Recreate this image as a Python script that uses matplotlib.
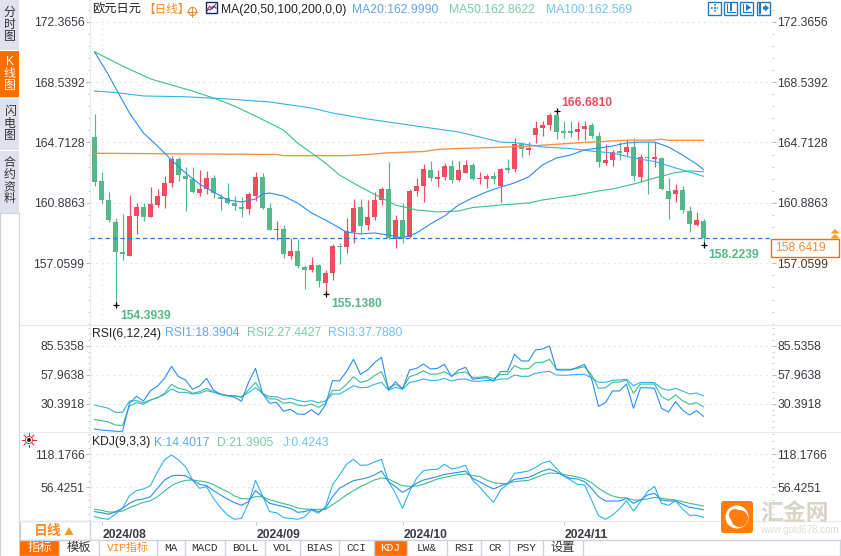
import numpy as np
import matplotlib
matplotlib.use('Agg')
import matplotlib.pyplot as plt
from matplotlib.patches import Rectangle, Circle, FancyBboxPatch, Polygon

W = 841
H = 556
plt.rcParams['font.family'] = ['Liberation Sans', 'Noto Sans CJK SC', 'DejaVu Sans']

# candles
opens = [165.06,162.27,161.07,159.68,157.78,157.52,160.06,160.63,159.99,160.75,161.32,162.15,163.67,162.59,162.40,161.51,161.77,162.46,161.26,161.20,
         160.88,160.63,160.50,161.32,162.53,160.56,159.17,159.23,157.52,157.84,156.83,156.64,156.95,155.81,156.45,158.16,158.09,159.04,160.63,159.49,
         159.99,161.07,161.77,158.60,159.80,158.73,161.64,161.96,162.97,162.40,162.53,163.22,162.34,162.78,163.29,162.40,162.40,162.59,161.98,163.10,
         163.03,164.62,164.24,165.19,165.63,165.82,166.45,165.44,165.44,165.38,165.57,165.82,165.12,163.41,163.60,164.17,164.11,164.43,162.53,163.79,
         163.67,163.73,161.64,161.45,161.70,160.37,159.49,159.74]
highs = [166.52,162.84,161.58,159.93,160.18,161.39,160.88,160.88,161.89,161.77,162.59,163.86,163.81,163.16,163.16,162.97,162.91,162.65,161.45,162.15,
         161.32,161.26,161.58,162.84,162.78,160.88,159.74,159.49,158.66,158.60,156.95,157.46,157.02,156.64,158.28,158.35,159.93,161.13,161.13,161.07,
         161.58,161.89,163.48,160.12,160.88,161.77,162.46,163.35,163.54,162.97,163.41,163.60,163.54,163.60,163.41,162.84,162.72,162.84,163.10,163.67,
         165.00,164.74,164.74,166.07,166.07,166.58,166.68,166.07,166.07,166.01,166.07,165.95,165.38,164.62,164.24,164.74,164.94,165.00,163.98,164.74,
         164.74,163.79,162.46,162.08,161.96,160.69,160.31,159.87]
lows = [161.96,160.90,159.68,154.39,157.27,157.52,158.92,159.74,159.99,160.63,160.56,161.89,162.27,160.37,161.51,161.32,161.45,161.20,160.44,160.82,
        160.44,159.99,160.18,161.01,160.50,159.17,158.54,157.40,157.33,156.76,155.43,156.51,155.56,155.14,156.00,157.02,157.71,158.35,158.92,159.17,
        159.80,160.75,158.60,158.03,158.35,158.66,161.32,160.94,162.27,161.89,162.34,162.15,162.27,162.78,162.34,162.08,161.83,162.08,160.96,162.78,
        162.84,163.80,163.92,164.68,165.12,165.50,164.94,165.00,165.06,164.87,164.87,165.00,163.16,163.29,163.22,163.60,163.86,162.27,162.21,161.45,
        163.16,161.70,159.87,160.94,160.25,159.04,159.42,158.22]
closes = [162.21,161.07,159.80,157.78,157.65,160.06,160.63,159.99,160.82,161.32,162.15,163.67,162.65,162.40,161.58,161.77,162.46,161.51,161.13,160.88,
          160.69,160.50,161.45,162.53,160.56,159.17,159.23,157.65,157.84,156.89,156.64,156.95,155.94,156.45,158.16,158.09,159.11,160.56,159.42,159.99,
          161.07,161.77,158.66,159.80,158.73,161.64,161.96,163.03,162.46,162.53,163.22,162.34,162.97,163.29,162.40,162.46,162.59,162.40,163.03,162.97,
          164.62,164.30,164.36,165.63,165.82,166.45,165.38,165.31,165.31,165.57,165.76,165.12,163.48,163.60,164.11,164.05,164.43,162.59,163.79,163.73,
          163.79,161.77,161.13,161.70,160.44,159.55,159.80,158.64]

ma20_idx = [0,2,3,5,7,9,11,13,15,17,19,21,23,24,25,27,29,31,33,35,36,38,40,42,44,46,48,50,52,54,56,58,60,62,64,66,68,70,72,74,76,78,80,82,84,86,87]
ma20 = [170.46,168.99,168.17,166.58,165.31,164.49,163.60,162.78,162.08,161.58,161.07,160.94,161.13,161.45,161.51,161.32,160.88,160.25,159.80,159.30,159.04,158.92,158.98,158.85,158.66,158.98,159.55,160.06,160.75,161.20,161.58,161.89,162.15,162.53,163.29,163.73,163.92,164.24,164.36,164.49,164.68,164.74,164.74,164.43,163.92,163.35,163.00]
ma50_idx = [0,4,8,14,17,20,23,27,29,31,33,35,38,41,43,46,49,52,54,58,62,64,69,72,74,77,80,83,85,87]
ma50 = [170.46,169.56,168.74,167.97,167.53,167.02,166.39,165.50,164.68,164.05,163.41,162.65,161.89,161.20,160.75,160.44,160.31,160.37,160.59,160.75,160.88,161.07,161.39,161.64,161.77,162.08,162.46,162.81,162.91,162.86]
ma100_idx = [0,3,7,13,19,25,31,34,39,47,52,58,60,64,68,71,74,77,80,83,85,87]
ma100 = [167.97,167.88,167.66,167.61,167.47,167.28,166.90,166.58,166.20,165.69,165.38,164.74,164.71,164.43,164.33,164.17,164.05,163.73,163.51,163.10,162.84,162.57]
ma200_idx = [0,21,26,27,36,39,42,47,49,52,58,63,66,69,72,75,80,81,82,87]
ma200 = [164.03,163.97,163.95,163.88,163.88,163.95,164.06,164.14,164.27,164.33,164.41,164.51,164.60,164.69,164.76,164.84,164.87,164.92,164.85,164.85]

rsi1 = [6.3,5.4,4.8,4.1,4.1,30.8,37.4,33.0,42.8,47.2,54.5,65.9,56.1,52.9,44.1,47.2,54.5,43.4,39.3,38.0,36.5,32.7,50.7,64.0,40.3,30.8,31.7,23.2,25.1,20.6,20.3,24.7,19.7,29.2,52.3,52.0,60.9,72.6,58.3,62.4,69.4,74.5,43.4,51.3,44.4,62.4,64.0,
        68.1,63.4,64.0,67.8,56.1,62.4,65.0,53.6,54.5,55.1,52.0,60.9,60.9,77.3,71.0,71.0,81.5,82.4,85.3,62.4,62.4,62.4,65.0,67.8,54.5,27.9,31.4,42.5,42.5,49.1,26.0,45.6,45.6,45.0,26.0,22.5,32.3,24.4,19.7,23.8,18.39]
rsi2 = [15.5,14.3,13.0,10.1,9.8,28.2,31.4,29.8,33.9,36.1,40.3,48.8,45.0,43.7,40.3,41.8,45.0,41.8,39.6,38.0,37.7,36.5,43.4,50.7,39.9,34.9,34.9,30.8,31.7,29.2,28.2,30.1,26.9,30.8,43.1,43.1,48.8,56.1,50.7,52.3,57.0,60.9,45.0,48.8,45.0,56.1,58.3,
        61.5,58.3,58.6,60.9,56.7,59.9,60.5,55.5,55.5,56.4,53.9,58.3,58.3,66.6,63.4,63.7,69.4,69.7,72.6,63.1,63.1,63.1,64.0,65.6,57.7,45.0,45.6,50.7,51.0,52.9,40.3,49.1,49.1,49.1,37.1,33.6,38.7,33.3,29.8,31.4,27.44]
rsi3 = [29.2,27.6,26.0,22.2,22.2,33.0,33.3,31.4,33.9,36.1,39.3,44.4,41.2,41.2,39.6,40.3,42.8,41.2,39.3,38.0,38.0,37.1,40.9,45.6,40.3,37.1,37.1,34.5,35.5,33.6,32.3,33.3,31.4,33.0,39.6,39.6,43.4,47.5,45.6,46.0,48.8,50.7,43.4,46.0,44.1,50.4,52.0,
        53.9,52.6,52.6,54.5,52.0,53.6,53.9,51.7,51.7,52.6,52.3,53.9,53.9,57.7,56.4,56.4,59.3,60.5,61.2,57.7,57.4,57.7,58.3,58.3,55.1,50.7,50.7,52.6,52.9,53.6,47.5,50.7,50.7,50.4,45.0,43.1,45.0,42.5,39.6,40.6,37.78]

kdj_k = [10.9,9.0,5.9,10.9,17.1,26.5,32.7,34.6,38.9,54.5,70.1,77.6,78.9,78.2,70.1,62.0,59.5,50.2,42.1,34.6,27.7,22.7,29.6,50.2,38.9,26.5,23.3,20.2,17.1,9.6,10.9,15.2,10.9,17.1,38.9,54.5,62.0,68.9,71.4,74.5,79.5,87.0,67.0,57.7,47.0,54.5,63.9,
         70.1,73.2,76.4,80.7,82.6,84.5,87.0,73.2,67.0,59.5,53.3,58.9,63.9,71.4,73.2,75.1,80.7,87.0,90.7,85.7,78.2,73.2,72.0,67.0,54.5,38.9,30.8,30.8,30.8,35.8,26.5,32.7,42.1,45.2,32.7,30.8,30.8,24.6,19.0,17.1,14.40]
kdj_d = [15.2,13.4,10.2,10.2,12.1,18.4,23.3,28.3,31.4,38.9,49.5,59.5,65.8,69.5,70.1,68.3,66.4,61.4,54.5,48.3,40.2,35.2,34.6,38.9,38.9,33.3,29.6,25.8,22.7,17.7,15.9,15.2,15.2,15.2,23.9,32.7,42.1,50.2,57.7,63.9,70.1,73.9,72.0,65.1,59.5,58.3,58.9,
         62.0,67.0,72.0,75.1,77.6,80.1,81.4,78.2,77.0,70.1,65.1,63.3,63.3,67.0,68.3,69.5,74.5,79.5,83.2,82.6,80.7,78.2,75.7,72.0,65.1,54.5,46.4,40.2,37.1,36.4,32.7,32.7,34.6,37.7,35.8,33.9,32.7,29.6,26.5,24.0,21.39]
kdj_j = [1.5,-1.6,-3.5,6.5,17.1,40.8,50.2,53.3,59.5,85.7,107.6,116.9,107.6,95.1,70.1,54.5,57.7,35.8,18.4,4.6,-3.5,-1.6,26.5,69.5,40.8,10.9,9.0,-0.4,-1.6,-3.5,0.9,14.0,7.7,20.2,60.8,79.5,99.4,108.8,97.6,98.2,103.8,108.8,67.0,45.2,17.1,48.3,73.2,
         87.6,89.5,90.1,99.4,90.7,93.2,97.6,70.1,57.7,42.1,28.3,51.4,62.0,82.6,84.5,87.0,93.2,101.9,105.7,92.0,77.6,70.1,62.0,60.8,32.7,3.4,-3.5,4.6,15.9,31.4,12.1,29.6,48.3,58.3,26.5,22.7,31.4,15.9,4.0,4.0,0.42]

price_ticks = [172.3656, 168.5392, 164.7128, 160.8863, 157.0599]
rsi_ticks = [85.5358, 57.9638, 30.3918]
kdj_ticks = [118.1766, 56.4251]
date_idx = [1, 23, 44, 67]
date_labels = ['2024/08', '2024/09', '2024/10', '2024/11']
last_price = 158.6419

RED = '#ee4d5f'
GREEN = '#54b888'
C1 = '#2a8ef5'
C2 = '#3cbf8a'
C3 = '#2fb4ea'
C4 = '#f6924a'
ORANGE = '#ff6c00'
GRID = '#e9e9e9'
SEP = '#e6eaf0'
TXT = '#3a3a44'
FS = 8.7
LW = 0.8


def rect(x0, y0, x1, y1):
    return [x0 / W, 1 - y1 / H, (x1 - x0) / W, (y1 - y0) / H]


def setup(ax, ylim, ticks):
    ax.set_facecolor('none')
    for s in ['top', 'right', 'bottom']:
        ax.spines[s].set_visible(False)
    ax.spines['left'].set_color(SEP)
    ax.set_yticks(ticks)
    ax.set_yticklabels(['%.4f' % t for t in ticks], fontsize=FS, color=TXT)
    step = abs(ticks[0] - ticks[1]) / 5
    ax.set_yticks(np.arange(ticks[-1] - 5 * step, ticks[0] + 5 * step, step), minor=True)
    ax.tick_params(axis='y', which='major', left=True, right=True, labelleft=True, labelright=True, length=3, width=0.8, color='#bbbbbb', pad=1)
    ax.tick_params(axis='y', which='minor', left=True, right=True, length=1.5, width=0.8, color='#cccccc')
    ax.set_xticks([])
    for t in ticks:
        ax.axhline(t, color=GRID, lw=0.9, ls=(0, (2, 2.5)), zorder=0)
    # set_yticks widens the view, so the limits come last
    ax.set_xlim((90 - 94.5) / 7, (772 - 94.5) / 7)
    ax.set_ylim(*ylim)


fig = plt.figure(figsize=(W / 100, H / 100), dpi=100, facecolor='white')

ax = fig.add_axes(rect(90, 0, 772, 325))
setup(ax, (153.15, 173.74), price_ticks)
ax.axvline(date_idx[0], color=GRID, lw=0.9, ls=(0, (1, 3)), zorder=0)

xs = np.arange(len(closes))
for i in xs:
    col = RED if closes[i] >= opens[i] else GREEN
    ax.vlines(i, lows[i], highs[i], color=col, lw=0.85, zorder=3)
    top = max(opens[i], closes[i])
    bot = min(opens[i], closes[i])
    ax.bar(i, max(top - bot, 0.06), bottom=bot, width=0.76, color=col, lw=0, zorder=3)

ax.plot(ma200_idx, ma200, color=C4, lw=1.0, zorder=4)
ax.plot(ma100_idx, ma100, color=C3, lw=LW, zorder=4)
ax.plot(ma50_idx, ma50, color=C2, lw=LW, zorder=4)
ax.plot(ma20_idx, ma20, color=C1, lw=LW, zorder=4)
ax.axhline(last_price, color='#1f7fe8', lw=0.9, ls=(0, (3.5, 2.5)), zorder=5)

lo1 = int(np.argmin(lows[:20]))
lo2 = 20 + int(np.argmin(lows[20:50]))
hi = int(np.argmax(highs))
lo3 = len(lows) - 1
ax.plot([lo1, lo2, lo3], [lows[lo1], lows[lo2], lows[lo3]], ls='none', marker='+', color='black', ms=5, mew=0.9, zorder=6)
ax.plot([hi], [highs[hi]], ls='none', marker='+', color='black', ms=5, mew=0.9, zorder=6)
ax.annotate('166.6810', (hi, highs[hi]), xytext=(3.5, 4), textcoords='offset points', color=RED, fontsize=FS, fontweight='bold')
ax.annotate('154.3939', (lo1, lows[lo1]), xytext=(3.5, -9.5), textcoords='offset points', color=GREEN, fontsize=FS, fontweight='bold')
ax.annotate('155.1380', (lo2, lows[lo2]), xytext=(4, -9.5), textcoords='offset points', color=GREEN, fontsize=FS, fontweight='bold')
ax.annotate('158.2239', (lo3, lows[lo3]), xytext=(3.5, -9.5), textcoords='offset points', color=GREEN, fontsize=FS, fontweight='bold')

ax2 = fig.add_axes(rect(90, 325, 772, 432))
setup(ax2, (3.49, 105.22), rsi_ticks)
ax2.plot(xs, rsi3, color=C3, lw=LW)
ax2.plot(xs, rsi2, color=C2, lw=LW)
ax2.plot(xs, rsi1, color=C1, lw=LW)

ax3 = fig.add_axes(rect(90, 432, 772, 520.5))
setup(ax3, (-5.7, 159.9), kdj_ticks)
ax3.plot(xs, kdj_j, color=C3, lw=LW)
ax3.plot(xs, kdj_d, color=C2, lw=LW)
ax3.plot(xs, kdj_k, color=C1, lw=LW)
ax3.set_xticks(date_idx)
ax3.set_xticklabels(date_labels, fontsize=FS, fontweight='bold', color=TXT, ha='left')
ax3.tick_params(axis='x', length=3, width=0.8, color='#cccccc', pad=3)
for lab in ax3.get_xticklabels():
    lab.set_transform(lab.get_transform() + matplotlib.transforms.ScaledTranslation(1.5 / 100, 0, fig.dpi_scale_trans))
ax3.set_xlim((90 - 94.5) / 7, (772 - 94.5) / 7)

# everything around the plot: tabs, buttons, legends
ov = fig.add_axes([0, 0, 1, 1], zorder=10)
ov.set_xlim(0, W)
ov.set_ylim(H, 0)
ov.axis('off')
ov.patch.set_alpha(0)


def box(x0, y0, x1, y1, fc='none', ec='none', lw=0.8, z=1):
    ov.add_patch(Rectangle((x0, y0), x1 - x0, y1 - y0, fc=fc, ec=ec, lw=lw, zorder=z))


def txt(x, y, s, color=TXT, size=FS, ha='left', **kw):
    ov.text(x, y, s, color=color, fontsize=size, ha=ha, va='center', **kw)


for sy in [324.5, 432, 520.5]:
    ov.plot([20, W], [sy, sy], color=SEP, lw=0.9)

# left tabs
box(0, 0, 19.5, 213, fc='#dfe2ec')
box(0, 213, 19.5, 556, fc='white', ec='#cdd3dc')
for ty in [50, 98, 149.5]:
    ov.plot([0, 19.5], [ty, ty], color='white', lw=0.8)
box(0, 51, 19.5, 97, fc=ORANGE)
side = [('分\n时\n图', 25, '#333333'), ('K\n线\n图', 74, 'white'), ('闪\n电\n图', 124, '#333333'), ('合\n约\n资\n料', 181, '#333333')]
for s, y, c in side:
    txt(9.5, y, s, color=c, size=8.6, ha='center', linespacing=1.0)

# header texts
txt(92, 10, '欧元日元', color='#222222', size=8.8)
txt(143, 10, '【日线】', color='#ff8a1e', size=8.4)
ov.add_patch(Circle((192.5, 11.5), 4, fc='none', ec='#f08a30', lw=0.8))
ov.plot([187.5, 197.5], [11.5, 11.5], color='#f08a30', lw=0.7)
ov.plot([192.5, 192.5], [6.5, 16.5], color='#f08a30', lw=0.7)
box(206, 2, 217, 13, fc='white', ec='#12246e', lw=1.0)
ov.plot([207, 209.5, 212, 216], [11, 6, 9, 4], color='#e02020', lw=0.8)
ov.plot([207, 210, 213, 216], [9, 10, 6, 8], color='#2040d0', lw=0.8)
txt(221, 10, 'MA(20,50,100,200,0,0)', color='#222222')
txt(352, 10, 'MA20:162.9990', color='#5fa5f9')
txt(449, 10, 'MA50:162.8622', color='#78cfa6')
txt(546, 10, 'MA100:162.569', color='#6cc5f0')

# zoom buttons
BTN = '#1a7cc8'
for bx in [708, 724, 740, 757]:
    box(bx, 1.5, bx + 13.5, 14.5, fc='white', ec=BTN, lw=1.0)
ov.plot([711, 713, 716, 718], [8, 8, 8, 8], color=BTN, lw=1.2, ls=(0, (1, 0.8)))
ov.plot([714.7, 714.7], [4, 12], color=BTN, lw=1.2, ls=(0, (1, 0.8)))
ov.plot([727, 727, 735], [3.5, 12, 12], color=BTN, lw=0.8)
ov.plot([731, 731], [4, 10], color=BTN, lw=1.4)
ov.plot([743, 743, 751], [3.5, 12, 12], color=BTN, lw=0.8)
ov.add_patch(Polygon([[746, 4], [751, 7.5], [746, 11]], fc=BTN, ec='none', zorder=2))
ov.plot([760, 760], [3.5, 12.5], color=BTN, lw=1.6)
ov.add_patch(Polygon([[763, 6.5], [765, 6.5], [765, 4.5], [769, 8], [765, 11.5], [765, 9.5], [763, 9.5]], fc=BTN, ec='none', zorder=2))

# price box
box(771.5, 239, 839, 257, fc='white', ec=ORANGE, lw=1.0, z=3)
txt(775, 248, '158.6419', color='#ff8a30', size=FS, zorder=4)
ov.add_patch(Polygon([[830.5, 233.5], [835, 229], [839.5, 233.5]], fc='#f59a23', ec='none'))
ov.add_patch(Polygon([[830.5, 238.5], [835, 234], [839.5, 238.5]], fc='#f59a23', ec='none'))

# sub panel headings
txt(92, 333.5, 'RSI(6,12,24)', color='#222222')
txt(165, 333.5, 'RSI1:18.3904', color='#5fa5f9')
txt(247, 333.5, 'RSI2:27.4427', color='#78cfa6')
txt(328, 333.5, 'RSI3:37.7880', color='#6cc5f0')
txt(92, 442.5, 'KDJ(9,3,3)', color='#222222')
txt(154, 442.5, 'K:14.4017', color='#5fa5f9')
txt(217, 442.5, 'D:21.3905', color='#78cfa6')
txt(283, 442.5, 'J:0.4243', color='#6cc5f0')
for a in np.arange(0, 2 * np.pi, np.pi / 4):
    ov.plot([29 + 4.5 * np.cos(a), 29 + 7 * np.cos(a)], [440 + 4.5 * np.sin(a), 440 + 7 * np.sin(a)], color='#e8202a', lw=0.7)
ov.add_patch(Circle((29, 440), 3.6, fc='white', ec='#e8202a', lw=0.6))
ov.add_patch(Circle((29, 440), 2, fc='#222222', ec='none'))

# period selector
box(20, 520.5, 90, 539.5, fc='white', ec='#cdd3dc', lw=1.0)
txt(34, 531, '日线', color='#ff8a1e', size=10, fontweight='bold')
ov.add_patch(Polygon([[64.5, 535], [69, 527], [73.5, 535]], fc='#f59a23', ec='none'))

# bottom tabs
tab_edges = [20, 59, 99, 157, 185, 225, 265, 300, 339, 374, 407, 447, 481, 509, 543, 583]
tab_names = ['指标', '模板', 'VIP指标', 'MA', 'MACD', 'BOLL', 'VOL', 'BIAS', 'CCI', 'KDJ', 'LW&', 'RSI', 'CR', 'PSY', '设置']
ov.plot([20, W], [540, 540], color='#cdd3dc', lw=1.0)
ov.plot([20, W], [555.5, 555.5], color='#cdd3dc', lw=1.0)
ov.plot([W - 1, W - 1], [540, 556], color='#cdd3dc', lw=1.0)
mono = ['Liberation Mono', 'Noto Sans CJK SC']
for i, name in enumerate(tab_names):
    x0 = tab_edges[i]
    x1 = tab_edges[i + 1]
    active = name in ('指标', 'KDJ')
    if active:
        box(x0, 540, x1, 556, fc=ORANGE)
    ov.plot([x1, x1], [540, 556], color='#cdd3dc', lw=1.0)
    col = 'white' if active else ('#ff8a1e' if name == 'VIP指标' else '#333333')
    txt((x0 + x1) / 2, 548, name, color=col, size=8.8 if name in ('指标', '模板', '设置') else 8, ha='center', family=mono)

# watermark
ov.add_patch(FancyBboxPatch((723, 503), 28, 28, boxstyle='round,pad=2,rounding_size=3', fc='#ff7d0f', ec='none', zorder=6))
ov.add_patch(Circle((737, 517), 11.5, fc='white', ec='none', zorder=6))
ov.add_patch(Circle((739.5, 518.5), 8.5, fc='#ff7d0f', ec='none', zorder=6))
ov.add_patch(Circle((735, 515), 6, fc='#ff7d0f', ec='none', zorder=6))
txt(760, 514, '汇金网', color='#d9d3c8', size=16.5, fontweight='bold', zorder=6)
txt(760, 530, 'www.gold678.com', color='#e2ddd3', size=7, zorder=6)

fig.savefig('out.png', dpi=100, facecolor='white')
